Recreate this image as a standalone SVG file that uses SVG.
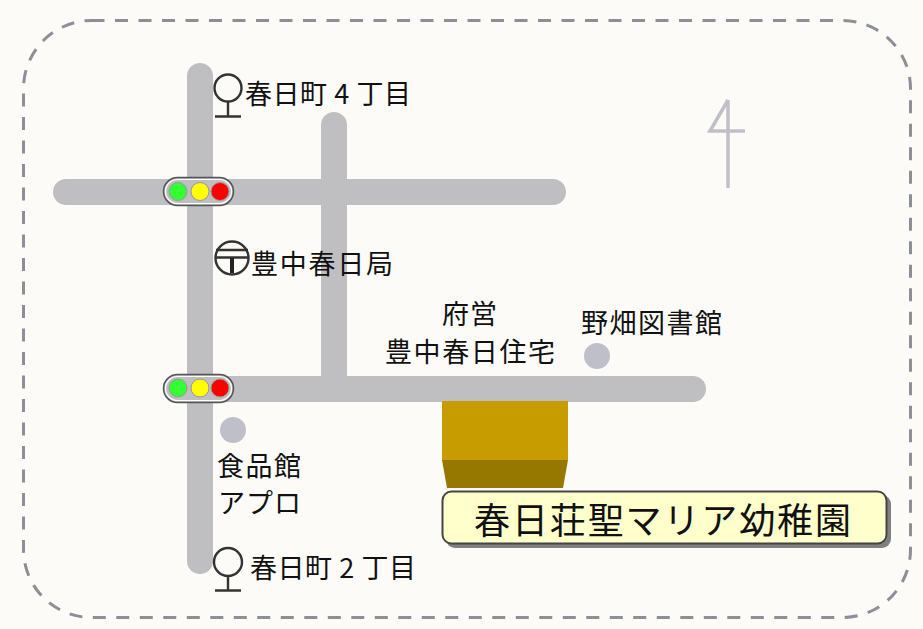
<svg xmlns="http://www.w3.org/2000/svg" width="923" height="629" viewBox="0 0 923 629">
<style>
.road{fill:none;stroke:#bfbfc2;stroke-width:26;stroke-linecap:round}
.dot{fill:#bfbfc9}
.t{font-family:"Noto Sans CJK JP","Noto Sans CJK SC",sans-serif;font-size:27px;fill:#111}
.sym{fill:none;stroke:#333;stroke-width:2.400}
.case{fill:#bfbfc2;stroke:#555;stroke-width:1.500}
.casein{fill:none;stroke:#fff;stroke-width:1.200}
.lamp{stroke:#999;stroke-width:1}
</style>
<rect width="923" height="629" fill="#fcfbf7"/>
<rect x="23.500" y="20.500" width="887" height="597" rx="68" ry="68" fill="none" stroke="#8e8e96" stroke-width="3" stroke-dasharray="13 10.500"/>
<g id="connectors">
<path class="road" d="M200 76V561"/>
<path class="road" d="M334 125V389"/>
<path class="road" d="M66 192H553"/>
<path class="road" d="M200 389H693"/>
</g>
<g id="north"><path d="M728 100L710 131H745M728 100V188" fill="none" stroke="#c0c0c8" stroke-width="3.500"/></g>
<g id="signal-north">
<rect class="case" x="163.500" y="177.500" width="70" height="28" rx="14"/>
<rect class="casein" x="165.500" y="179.500" width="66" height="24" rx="12"/>
<circle class="lamp" cx="178" cy="191.500" r="9" fill="#33ff33"/>
<circle class="lamp" cx="200" cy="191.500" r="9" fill="#ffff00"/>
<circle class="lamp" cx="220" cy="191.500" r="9" fill="#ff0000"/>
</g>
<g id="signal-south">
<rect class="case" x="163.500" y="374.500" width="70" height="28" rx="14"/>
<rect class="casein" x="165.500" y="376.500" width="66" height="24" rx="12"/>
<circle class="lamp" cx="178" cy="388" r="9" fill="#33ff33"/>
<circle class="lamp" cx="200" cy="388" r="9" fill="#ffff00"/>
<circle class="lamp" cx="220" cy="388" r="9" fill="#ff0000"/>
</g>
<g id="stop-4">
<circle class="sym" cx="228" cy="88" r="13.500"/><path class="sym" d="M228 102V116M215 116.500H241"/>
<text class="t" x="245" y="104" textLength="166">春日町 4 丁目</text>
</g>
<g id="post-office">
<circle class="sym" cx="232" cy="258" r="16.500"/>
<path class="sym" d="M216 250H248M216 257.500H248"/><path d="M232 258V273" stroke="#222" stroke-width="4"/>
<text class="t" x="251" y="274" textLength="142">豊中春日局</text>
</g>
<g id="housing">
<text class="t" x="442" y="324" textLength="55">府営</text>
<text class="t" x="385" y="362" textLength="170">豊中春日住宅</text>
</g>
<g id="library">
<circle class="dot" cx="597" cy="356" r="13"/>
<text class="t" x="581" y="333" textLength="141">野畑図書館</text>
</g>
<g id="market">
<circle class="dot" cx="233" cy="430" r="13"/>
<text class="t" x="217" y="476" textLength="84">食品館</text>
<text class="t" x="218" y="513" textLength="83">アプロ</text>
</g>
<g id="stop-2">
<circle class="sym" cx="228" cy="562" r="14"/><path class="sym" d="M228 576V590M215 590.500H241"/>
<text class="t" x="250" y="578" textLength="166">春日町 2 丁目</text>
</g>
<g id="kindergarten">
<rect x="442" y="401" width="126" height="59" fill="#c69c00"/>
<path d="M442 460H568L563 488H447Z" fill="#967800"/>
<rect x="446" y="495" width="445" height="53" rx="9" fill="#808080"/>
<rect x="442.500" y="491.500" width="444" height="52" rx="9" fill="#ffffcc" stroke="#444" stroke-width="2"/>
<text class="t" x="474" y="534" style="font-size:36px" textLength="377">春日荘聖マリア幼稚園</text>
</g>
</svg>
